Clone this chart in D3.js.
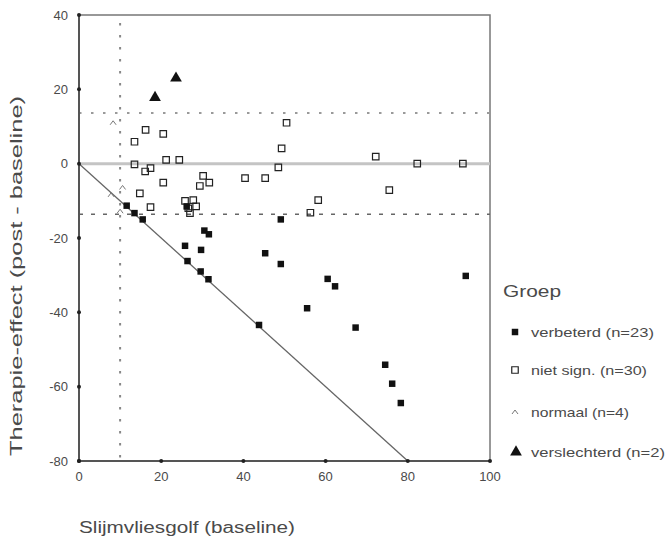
<!DOCTYPE html>
<html lang="nl">
<head>
  <meta charset="UTF-8">
  <script src="https://d3js.org/d3.v7.min.js"></script>
  <title>Therapie-effect</title>
  <style>
    body { margin: 0; background: #fff; }
    text { font-family: "Liberation Sans", Arial, sans-serif; fill: #4a4a4a; }
  </style>
</head>
<body>
<script>
  // data
  let verbeterdX = [11.6, 13.5, 15.5, 30.5, 31.6, 25.8, 29.7, 26.4, 29.6, 31.5, 43.8, 49.1, 45.3, 49.1, 60.5, 62.3, 55.5, 94.1, 67.3, 74.5, 76.2, 78.3, 26.2]
  let verbeterdY = [-11.3, -13.3, -15, -18, -19, -22.1, -23.2, -26.2, -29, -31.1, -43.4, -15, -24.1, -27, -31, -33, -38.9, -30.2, -44.1, -54.1, -59.2, -64.4, -11.5]

  let nietSignX = [13.5, 16.2, 20.5, 13.5, 21.2, 24.4, 17.4, 16.1, 20.5, 14.8, 30.2, 29.4, 31.7, 40.4, 45.3, 48.5, 49.3, 50.5, 17.4, 58.2, 56.3, 72.2, 82.3, 93.4, 75.5, 25.8, 27.8, 27, 26.6, 28.5]
  let nietSignY = [5.9, 9.1, 8, -0.2, 1, 1, -1.2, -2.1, -5.1, -8, -3.3, -6, -5.1, -3.9, -3.9, -1, 4.1, 11, -11.7, -9.8, -13.2, 1.9, 0, 0, -7.1, -10, -9.8, -13.3, -12, -11.5]

  let normaalX = [8.3, 10.6, 7.8, 10]
  let normaalY = [11, -6.4, -8.4, -12.8]

  let verslechterdX = [18.5, 23.6]
  let verslechterdY = [17.8, 23]

  let groepen = ['verbeterd (n=23)', 'niet sign. (n=30)', 'normaal (n=4)', 'verslechterd (n=2)']

  let xTicks = [0, 20, 40, 60, 80, 100]
  let yTicks = [40, 20, 0, -20, -40, -60, -80]

  let width = 666
  let height = 541

  let svg = d3.select('body')
    .append('svg')
    .attr('width', width)
    .attr('height', height)

  let x = d3.scaleLinear().domain([0, 100]).range([79, 490])
  let y = d3.scaleLinear().domain([-80, 40]).range([461, 15])

  // kader
  svg.append('rect')
    .attr('x', x(0)).attr('y', y(40))
    .attr('width', x(100) - x(0)).attr('height', y(-80) - y(40))
    .attr('fill', 'none').attr('stroke', '#777').attr('stroke-width', 1.5)

  // nul-lijn
  svg.append('line')
    .attr('x1', x(0)).attr('x2', x(100))
    .attr('y1', y(0)).attr('y2', y(0))
    .attr('stroke', '#c4c4c4').attr('stroke-width', 3)

  // referentielijnen
  svg.append('line')
    .attr('x1', x(0)).attr('x2', x(100))
    .attr('y1', y(13.6)).attr('y2', y(13.6))
    .attr('stroke', '#9a9a9a').attr('stroke-width', 2).attr('stroke-dasharray', '2.5,9.5')
  svg.append('line')
    .attr('x1', x(0)).attr('x2', x(100))
    .attr('y1', y(-13.6)).attr('y2', y(-13.6))
    .attr('stroke', '#666').attr('stroke-width', 1.5).attr('stroke-dasharray', '4,8')
  svg.append('line')
    .attr('x1', x(10)).attr('x2', x(10))
    .attr('y1', y(40) + 8).attr('y2', y(-80))
    .attr('stroke', '#888').attr('stroke-width', 2).attr('stroke-dasharray', '2.5,9.5')

  // diagonaal y = -x
  svg.append('line')
    .attr('x1', x(0)).attr('y1', y(0))
    .attr('x2', x(80)).attr('y2', y(-80))
    .attr('stroke', '#666').attr('stroke-width', 1.3)

  // assen
  svg.append('line')
    .attr('x1', x(0)).attr('x2', x(0)).attr('y1', y(40)).attr('y2', y(-80))
    .attr('stroke', '#555').attr('stroke-width', 2)
  svg.append('line')
    .attr('x1', x(0)).attr('x2', x(100)).attr('y1', y(-80)).attr('y2', y(-80))
    .attr('stroke', '#555').attr('stroke-width', 2)

  svg.selectAll('.ytick')
    .data(yTicks)
    .enter()
    .append('circle')
    .attr('cx', x(0)).attr('cy', d => y(d)).attr('r', 2).attr('fill', '#222')
  svg.selectAll('.xtick')
    .data(xTicks)
    .enter()
    .append('circle')
    .attr('cx', d => x(d)).attr('cy', y(-80)).attr('r', 2).attr('fill', '#222')

  svg.selectAll('.ylab')
    .data(yTicks)
    .enter()
    .append('text')
    .attr('x', 68).attr('y', d => y(d) + 4.5)
    .attr('text-anchor', 'end').attr('font-size', 13)
    .text(d => d)
  svg.selectAll('.xlab')
    .data(xTicks)
    .enter()
    .append('text')
    .attr('x', d => x(d)).attr('y', 481)
    .attr('text-anchor', 'middle').attr('font-size', 13)
    .text(d => d)

  // as-titels
  svg.append('text')
    .attr('x', 79).attr('y', 533)
    .attr('font-size', 16)
    .attr('textLength', 216).attr('lengthAdjust', 'spacingAndGlyphs')
    .text('Slijmvliesgolf (baseline)')
  svg.append('text')
    .attr('transform', 'translate(22,276) rotate(-90)')
    .attr('text-anchor', 'middle')
    .attr('font-size', 16)
    .attr('textLength', 360).attr('lengthAdjust', 'spacingAndGlyphs')
    .text('Therapie-effect (post - baseline)')

  // punten
  let sq = d3.symbol().type(d3.symbolSquare).size(42)
  let tri = d3.symbol().type(d3.symbolTriangle).size(60)
  let caret = 'M-3,2L0,-2L3,2'

  let plot = svg.append('g')

  plot.selectAll('.niet')
    .data(nietSignX)
    .enter()
    .append('path')
    .attr('d', sq)
    .attr('transform', (d, i) => `translate(${x(d)},${y(nietSignY[i])})`)
    .attr('fill', 'none').attr('stroke', '#222').attr('stroke-width', 1.2)

  plot.selectAll('.norm')
    .data(normaalX)
    .enter()
    .append('path')
    .attr('d', caret)
    .attr('transform', (d, i) => `translate(${x(d)},${y(normaalY[i])})`)
    .attr('fill', 'none').attr('stroke', '#777').attr('stroke-width', 1)

  plot.selectAll('.verb')
    .data(verbeterdX)
    .enter()
    .append('path')
    .attr('d', sq)
    .attr('transform', (d, i) => `translate(${x(d)},${y(verbeterdY[i])})`)
    .attr('fill', '#111')

  plot.selectAll('.versl')
    .data(verslechterdX)
    .enter()
    .append('path')
    .attr('d', tri)
    .attr('transform', (d, i) => `translate(${x(d)},${y(verslechterdY[i])})`)
    .attr('fill', '#111')

  // legenda
  let legend = svg.append('g')
  legend.append('text')
    .attr('x', 503).attr('y', 297)
    .attr('font-size', 17)
    .attr('textLength', 58).attr('lengthAdjust', 'spacingAndGlyphs')
    .text('Groep')

  let legY = [332, 370, 412, 452]
  let legW = [123, 116, 98, 134]

  legend.selectAll('.legtext')
    .data(groepen)
    .enter()
    .append('text')
    .attr('x', 531).attr('y', (d, i) => legY[i] + 4.5)
    .attr('font-size', 13)
    .attr('textLength', (d, i) => legW[i]).attr('lengthAdjust', 'spacingAndGlyphs')
    .text(d => d)

  legend.append('path').attr('d', sq).attr('transform', `translate(515,${legY[0]})`).attr('fill', '#111')
  legend.append('path').attr('d', sq).attr('transform', `translate(515,${legY[1]})`)
    .attr('fill', 'none').attr('stroke', '#222').attr('stroke-width', 1.2)
  legend.append('path').attr('d', caret).attr('transform', `translate(515,${legY[2]})`)
    .attr('fill', 'none').attr('stroke', '#777').attr('stroke-width', 1)
  legend.append('path').attr('d', tri).attr('transform', `translate(516,${legY[3]})`).attr('fill', '#111')
</script>
</body>
</html>
